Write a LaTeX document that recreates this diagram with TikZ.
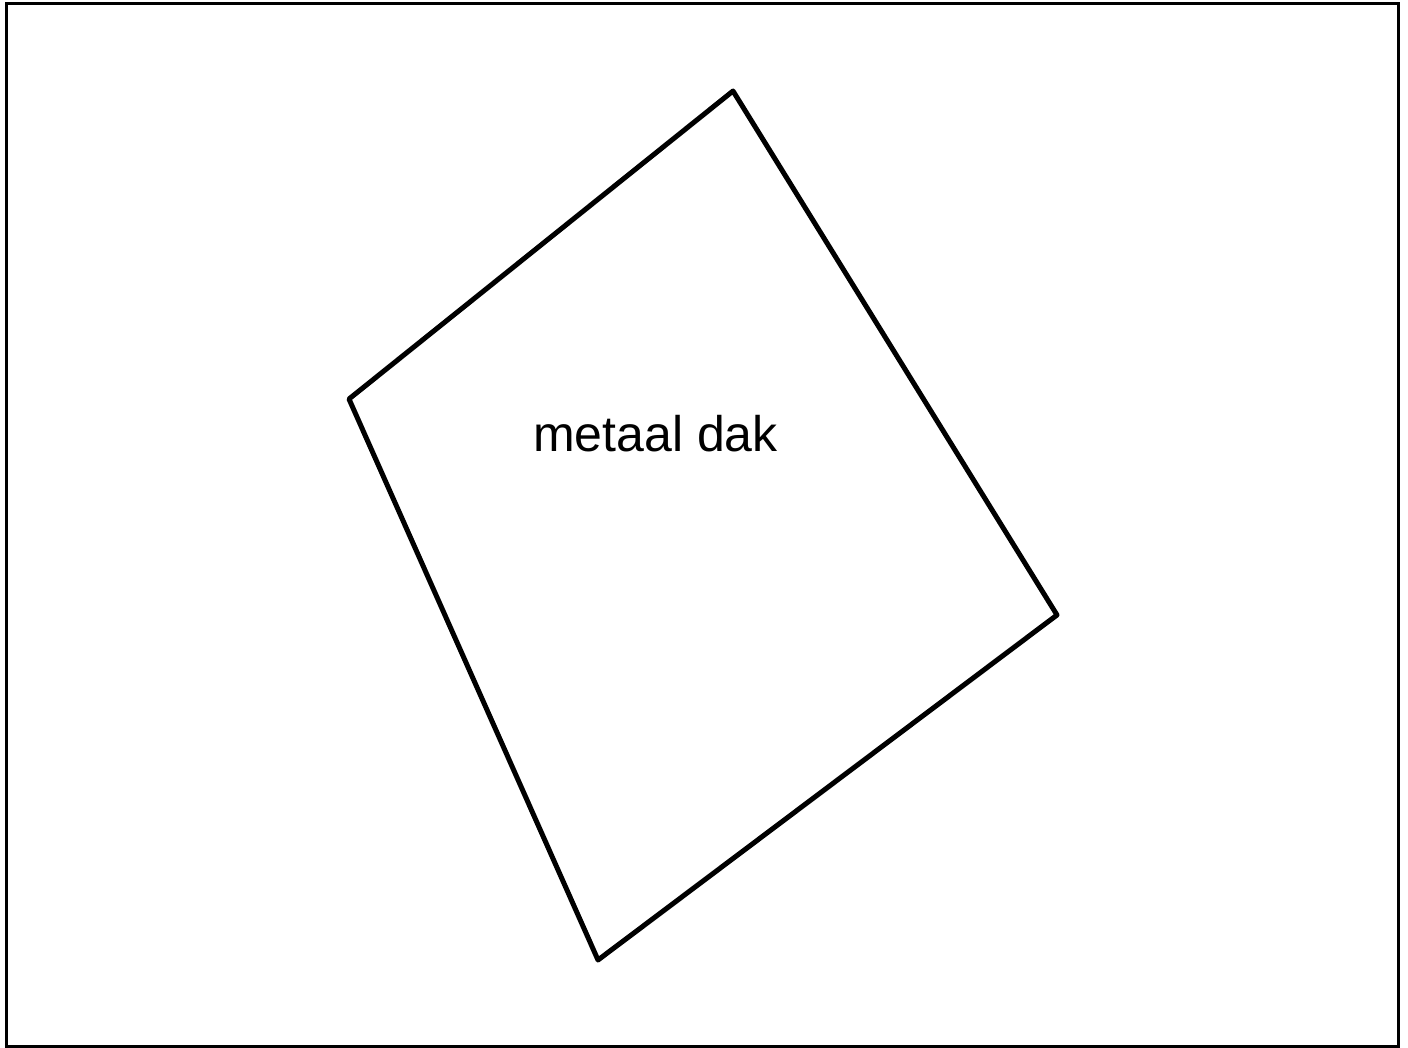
\documentclass[tikz,border=0pt]{standalone}
\usepackage{fontspec}
\setmainfont{Liberation Sans}
\begin{document}
\begin{tikzpicture}[x=1pt,y=-1pt,
  frame/.style={draw=black,line width=3pt},
  roof/.style={draw=black,line width=5pt,line join=round},
  lbl/.style={font=\fontsize{50}{60}\selectfont,inner sep=0pt,anchor=base}]
\useasboundingbox (0,0) rectangle (1408,1048);
\draw[frame] (6.5,4) rectangle (1398.5,1046);
\coordinate (a) at (733,91);
\coordinate (b) at (1057,615);
\coordinate (c) at (598,960);
\coordinate (d) at (349,399);
\draw[roof] (a) -- (b) -- (c) -- (d) -- cycle;
\node[lbl] (t) at (655.5,451) {metaal dak};
\end{tikzpicture}
\end{document}
